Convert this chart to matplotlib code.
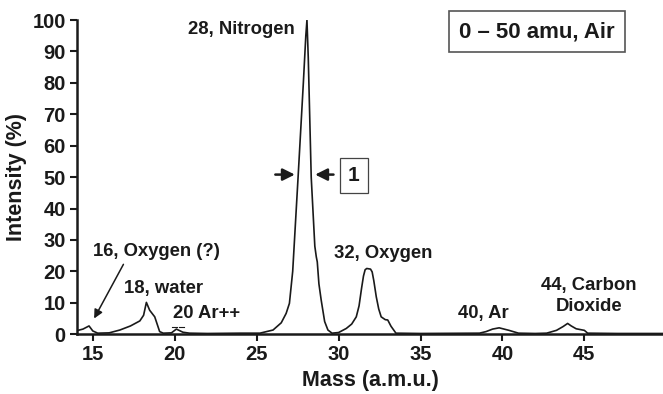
import matplotlib.pyplot as plt

plt.rcParams['font.family'] = ['Liberation Sans', 'DejaVu Sans']
plt.rcParams['font.weight'] = 'bold'

# spectrum (mass, intensity %)
mass = [14.03, 14.4, 14.77, 15.0, 15.3, 16.0, 16.65, 17.3, 17.87, 18.1, 18.27,
        18.47, 18.78, 19.08, 19.3, 19.8, 20.1, 20.5, 20.9, 22.0, 24.0, 25.2,
        26.0, 26.5, 26.8, 27.0, 27.2, 27.54, 27.85, 28.0, 28.07, 28.15, 28.33,
        28.55, 28.64, 28.7, 28.8, 28.94, 29.15, 29.35, 29.6, 30.0, 30.47,
        30.8, 31.08, 31.25, 31.4, 31.52, 31.62, 31.72, 31.95, 32.05, 32.15,
        32.3, 32.45, 32.6, 32.85, 33.0, 33.2, 33.5, 35.0, 38.6, 39.0, 39.4,
        39.8, 40.4, 40.98, 42.0, 42.7, 43.3, 43.7, 43.98, 44.2, 44.5, 45.0,
        45.2, 47.0, 49.8]
intensity = [1.1, 1.6, 2.6, 1.0, 0.3, 0.4, 1.3, 2.6, 4.2, 6.0, 10.1,
             7.6, 5.5, 0.8, 0.3, 0.4, 1.6, 0.6, 0.3, 0.2, 0.3, 0.3,
             1.3, 3.6, 6.6, 9.8, 20.0, 51.0, 80.0, 95.0, 100.0, 88.0, 50.0,
             28.0, 24.6, 23.0, 16.0, 10.8, 4.0, 1.3, 0.3, 0.5, 1.8,
             3.2, 5.5, 9.0, 14.5, 18.5, 20.5, 20.9, 20.7, 19.8, 17.0,
             11.9, 8.0, 5.5, 4.6, 4.5, 2.5, 0.3, 0.2, 0.3, 0.8, 1.6,
             2.0, 1.2, 0.3, 0.2, 0.3, 1.2, 2.4, 3.4, 2.6, 1.7, 1.2,
             0.3, 0.2, 0.2]

labels = ['28, Nitrogen', '16, Oxygen (?)', '18, water', '20 Ar++',
          '32, Oxygen', '40, Ar', '44, Carbon\nDioxide']
label_x = [27.3, 18.9, 19.33, 21.95, 32.74, 38.85, 45.27]
label_y = [97, 26.2, 14.6, 6.7, 25.8, 6.7, 12.0]
label_ha = ['right', 'center', 'center', 'center', 'center', 'center', 'center']

ink = '#1a1a1a'
fig = plt.figure(figsize=(6.63, 3.94), dpi=100)
ax = fig.add_axes([0.116, 0.152, 0.884, 0.797])
ax.plot(mass, intensity, color=ink, lw=1.2)

ax.set_xlim(14.03, 49.8)
ax.set_ylim(0, 100)
ax.set_xticks([15, 20, 25, 30, 35, 40, 45])
ax.set_yticks(range(0, 101, 10))
ax.spines['top'].set_visible(False)
ax.spines['right'].set_visible(False)
for s in ['left', 'bottom']:
    ax.spines[s].set_linewidth(1.8)
    ax.spines[s].set_color(ink)
ax.tick_params(direction='out', length=5, width=1.5, colors=ink,
               labelsize=14.5, pad=3)
for t in ax.get_xticklabels() + ax.get_yticklabels():
    t.set_fontweight('bold')
ax.set_xlabel('Mass (a.m.u.)', fontsize=15.5, fontweight='bold', color=ink,
              labelpad=4)
ax.set_ylabel('Intensity (%)', fontsize=15.5, fontweight='bold', color=ink,
              labelpad=4)

for txt, x, y, ha in zip(labels, label_x, label_y, label_ha):
    ax.text(x, y, txt, ha=ha, va='center', fontsize=13.3, fontweight='bold',
            color=ink, linespacing=1.3)

# arrow to the m/z 16 peak
ax.annotate('', xy=(15.0, 4.2), xytext=(16.95, 23),
            arrowprops=dict(arrowstyle='-|>', color=ink, lw=1.1,
                            mutation_scale=13))
# little marks above Ar++
ax.plot([19.85, 20.15], [2.4, 2.4], color=ink, lw=0.8)
ax.plot([20.25, 20.55], [2.4, 2.4], color=ink, lw=0.8)

# FWHM arrows
ax.annotate('', xy=(27.5, 50.8), xytext=(25.97, 50.8),
            arrowprops=dict(arrowstyle='-|>', color=ink, lw=1.8,
                            mutation_scale=18))
ax.annotate('', xy=(28.4, 50.8), xytext=(29.86, 50.8),
            arrowprops=dict(arrowstyle='-|>', color=ink, lw=1.8,
                            mutation_scale=18))
ax.text(30.94, 50.5, '1', ha='center', va='center', fontsize=15,
        fontweight='bold', color=ink,
        bbox=dict(boxstyle='square,pad=0.4', fc='white', ec='#444444', lw=0.9))

ax.text(42.1, 96.3, '0 \u2013 50 amu, Air', ha='center', va='center',
        fontsize=16, fontweight='bold', color=ink,
        bbox=dict(boxstyle='square,pad=0.45', fc='white', ec='#555555', lw=1.2))

fig.savefig('out.png', dpi=100)
